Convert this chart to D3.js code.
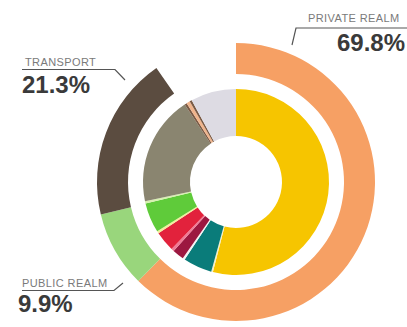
<!DOCTYPE html>
<html>
<head>
<meta charset="utf-8">
<script src="https://cdn.jsdelivr.net/npm/d3@7"></script>
<style>
  html, body { margin: 0; padding: 0; background: #ffffff; }
  svg { display: block; }
</style>
</head>
<body>
<svg id="chart" width="407" height="327"></svg>
<script>
// Outer ring: share of land use by realm (percent)
const realmNames = ["PRIVATE REALM", "PUBLIC REALM", "TRANSPORT"];
const realmValues = [69.8, 9.9, 21.3];
const realmColors = ["#f6a064", "#99d67c", "#5b4c40"];

// Inner ring: detailed land-use categories (percent)
const detailValues = [54.0, 0.3, 5.0, 0.4, 2.0, 0.5, 3.5, 0.4, 5.2, 0.4, 19.0, 0.4, 0.6, 0.4, 7.9];
const detailColors = ["#f6c500", "#f3f0c8", "#0a7c7a", "#f4f4f4", "#9c1840", "#f07a96", "#e2223c",
                      "#f2ee9a", "#5fcb3a", "#d8f0b0", "#8a8570", "#7a5a44", "#f0b48c", "#7a5a44", "#dddbe3"];

const svg = d3.select("#chart");
const cx = 236, cy = 182;
const g = svg.append("g").attr("transform", `translate(${cx},${cy})`);

// Outer ring covers roughly nine tenths of the circle
const outerAngle = d3.scaleLinear().domain([0, 100]).range([0, 2 * Math.PI * 0.894]);
const realmTotal = d3.sum(realmValues);

const outerPie = d3.pie().sort(null).value(d => d)
  .startAngle(0).endAngle(outerAngle(realmTotal));
const outerArc = d3.arc().innerRadius(108).outerRadius(139);

g.selectAll("path.outer")
  .data(outerPie(realmValues))
  .join("path")
  .attr("class", "outer")
  .attr("d", outerArc)
  .attr("fill", (d, i) => realmColors[i]);

const innerPie = d3.pie().sort(null).value(d => d).startAngle(0).endAngle(2 * Math.PI);
const innerArc = d3.arc().innerRadius(46).outerRadius(93);

g.selectAll("path.inner")
  .data(innerPie(detailValues))
  .join("path")
  .attr("class", "inner")
  .attr("d", innerArc)
  .attr("fill", (d, i) => detailColors[i]);

// Callouts: name, value and a leader line toward the ring
const callouts = [
  { i: 0, name: { x: 308, y: 22, anchor: "start" }, value: { x: 405, y: 51, anchor: "end" },
    line: [[292, 45], [296, 28], [407, 28]] },
  { i: 2, name: { x: 25, y: 66, anchor: "start" }, value: { x: 22, y: 93, anchor: "start" },
    line: [[22, 69.5], [115, 69.5], [125, 80]] },
  { i: 1, name: { x: 22, y: 287, anchor: "start" }, value: { x: 18, y: 312, anchor: "start" },
    line: [[22, 290.5], [114, 290.5], [123, 283]] }
];

const line = d3.line();
const labels = svg.append("g");
callouts.forEach(c => {
  labels.append("path")
    .attr("d", line(c.line))
    .attr("fill", "none")
    .attr("stroke", "#555555")
    .attr("stroke-width", 1.2);
  labels.append("text")
    .attr("x", c.name.x).attr("y", c.name.y)
    .attr("text-anchor", c.name.anchor)
    .attr("font-family", "Liberation Sans, Arial, sans-serif")
    .attr("font-size", 11)
    .attr("letter-spacing", 0.4)
    .attr("fill", "#7a7a7a")
    .text(realmNames[c.i]);
  labels.append("text")
    .attr("x", c.value.x).attr("y", c.value.y)
    .attr("text-anchor", c.value.anchor)
    .attr("font-family", "Liberation Sans, Arial, sans-serif")
    .attr("font-weight", "bold")
    .attr("font-size", 24)
    .attr("fill", "#3a3a3a")
    .text(realmValues[c.i].toFixed(1) + "%");
});
</script>
</body>
</html>
